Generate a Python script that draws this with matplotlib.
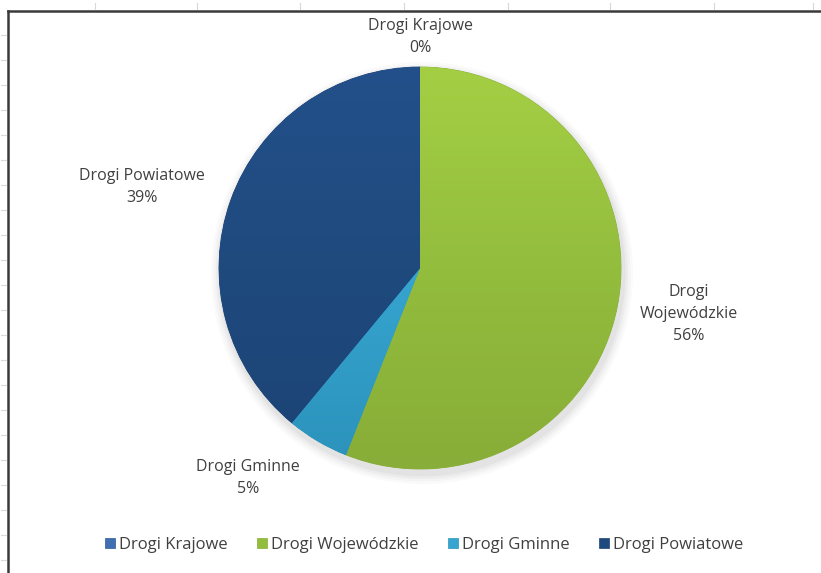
import matplotlib.pyplot as plt
from matplotlib.patches import Patch, Ellipse
from matplotlib.colors import LinearSegmentedColormap
import numpy as np

plt.rcParams['font.family'] = ['Open Sans', 'DejaVu Sans']

categories = ['Drogi Krajowe', 'Drogi Wojewódzkie', 'Drogi Gminne', 'Drogi Powiatowe']
values = [0, 56, 5, 39]
colors = ['#3f6fb0', '#93bd3d', '#36a5d0', '#1f4a7e']
light = ['#5a8ad0', '#a4cf44', '#45b4de', '#23508a']
dark = ['#2f5b96', '#88ad38', '#2b92bb', '#1c4375']
# label text in the chart (Excel "best fit" style)
label_texts = ['Drogi Krajowe\n0%', 'Drogi\nWojewódzkie\n56%', 'Drogi Gminne\n5%', 'Drogi Powiatowe\n39%']
label_pos = [(0.0, 1.149), (1.338, -0.229), (-0.856, -1.045), (-1.383, 0.403)]

W, H = 821, 573
cx, cy, r = 420, 268, 201  # pixel geometry of the pie

fig = plt.figure(figsize=(W / 100, H / 100), dpi=100)
ax = fig.add_axes([0, 0, 1, 1])

# soft shadow under pie
for i, a in enumerate([0.035, 0.03, 0.025, 0.02]):
    sh = Ellipse((0.01, -0.025), 2 + 0.025 * (i + 1), 2 + 0.025 * (i + 1),
                 color='black', alpha=a, lw=0, zorder=1)
    ax.add_patch(sh)

wedges, _ = ax.pie(values, colors=colors, startangle=90, counterclock=False,
                   normalize=True, radius=1.0)

# gradient shading, lighter at the top like the Excel style
grad = np.linspace(0, 1, 256).reshape(-1, 1)
for w, c0, c1, c in zip(wedges, light, dark, colors):
    w.set_zorder(2)
    w.set_edgecolor(c1)
    w.set_linewidth(0.6)
    cmap = LinearSegmentedColormap.from_list('g', [c0, c, c1])
    im = ax.imshow(grad, cmap=cmap, extent=(-1, 1, -1, 1), origin='upper',
                   aspect='auto', zorder=2.1, interpolation='bilinear')
    im.set_clip_path(w)

ax.set_xlim(-cx / r, (W - cx) / r)
ax.set_ylim(-(H - cy) / r, cy / r)
ax.set_aspect('auto')
ax.axis('off')

for t, (x, y) in zip(label_texts, label_pos):
    ax.text(x, y, t, ha='center', va='center', fontsize=11.5, color='#404040',
            linespacing=1.5, zorder=3)

# chart frame (left and top border) and sheet gridline ticks
fig.add_artist(plt.Line2D([8 / W, 8 / W], [0, 1 - 11 / H], color='#3a3a3a', lw=1.8))
fig.add_artist(plt.Line2D([8 / W, 1], [1 - 11 / H, 1 - 11 / H], color='#3a3a3a', lw=1.8))
for xt in [95, 197, 300, 404, 508, 610, 714, 813]:
    fig.add_artist(plt.Line2D([xt / W, xt / W], [1 - 9 / H, 1 - 3 / H], color='#d8d8d8', lw=0.8))
for yt in range(35, 573, 25):
    fig.add_artist(plt.Line2D([1 / W, 6 / W], [1 - yt / H, 1 - yt / H], color='#dadada', lw=0.8))

handles = [Patch(facecolor=c, edgecolor=d, lw=0.5) for c, d in zip(colors, dark)]
fig.legend(handles, categories, loc='center', bbox_to_anchor=(424 / W, 1 - 545 / H),
           ncol=4, frameon=False, fontsize=12, handlelength=0.6, handleheight=0.6,
           handletextpad=0.25, columnspacing=1.75, labelcolor='#404040')

fig.savefig('out.png', dpi=100, facecolor='white')
